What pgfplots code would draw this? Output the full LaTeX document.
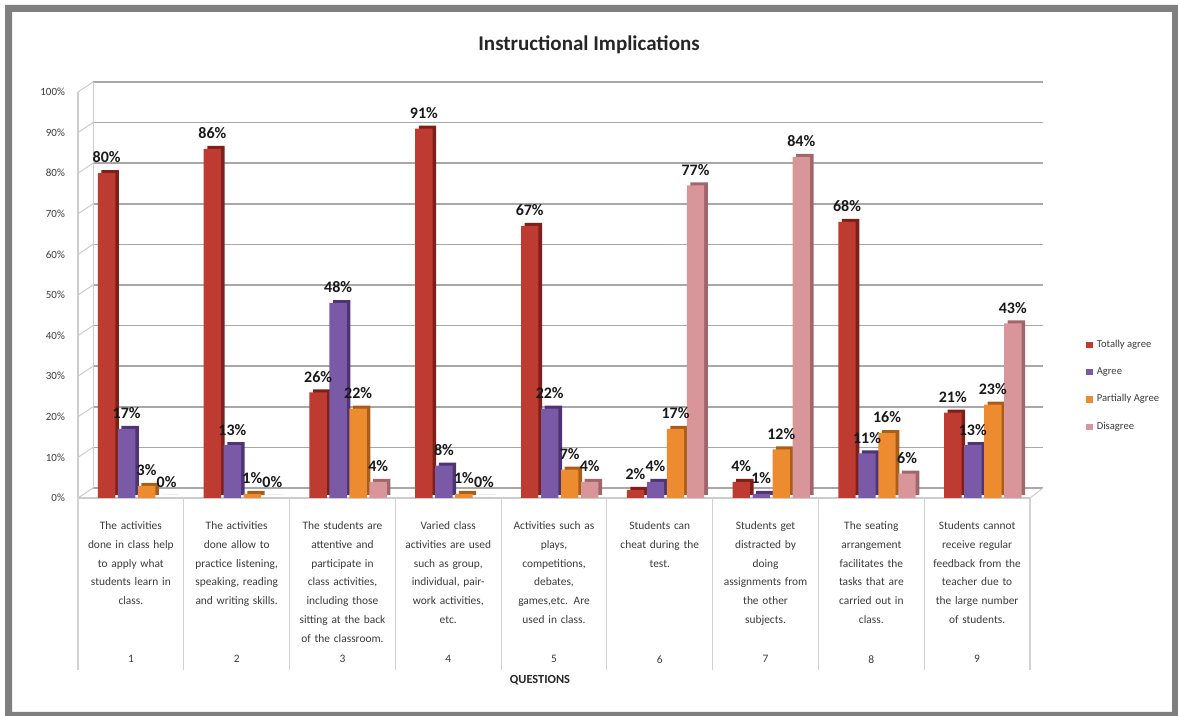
\documentclass[border=0pt]{standalone}
\usepackage{fontspec}
\setmainfont{Carlito}
\usepackage{pgfplots}
\usepackage{pgfplotstable}
\pgfplotsset{compat=1.18}
\definecolor{framegray}{HTML}{7F7F7F}
\definecolor{taF}{HTML}{BE3B32}
\definecolor{taD}{HTML}{7E1F1A}
\definecolor{agF}{HTML}{7A5AA6}
\definecolor{agD}{HTML}{4E3475}
\definecolor{paF}{HTML}{EC8B2F}
\definecolor{paD}{HTML}{A95D16}
\definecolor{diF}{HTML}{D9969A}
\definecolor{diD}{HTML}{A0666A}
\definecolor{gridc}{HTML}{A8A8A8}
\definecolor{txt}{HTML}{3A3A3A}

\pgfplotstableread{
q ta ag pa di
1 80 17 3 0
2 86 13 1 0
3 26 48 22 4
4 91 8 1 0
5 67 22 7 4
6 2 4 17 77
7 4 1 12 84
8 68 11 16 6
9 21 13 23 43
}\datatab

\begin{document}
\begin{tikzpicture}
\path[use as bounding box] (0,0) rectangle (589pt,358pt);
\fill[framegray, even odd rule] (2.5pt,0pt) rectangle (589pt,355.5pt) (6pt,2pt) rectangle (586pt,352pt);
\node[font=\bfseries\fontsize{10.5}{12}\selectfont, text=black!85] at (294.5pt,335.5pt) {Instructional Implications};
\node[font=\bfseries\fontsize{6.2}{7}\selectfont, text=black!85] at (270pt,18pt) {QUESTIONS};
\begin{axis}[
  at={(39pt,109pt)}, anchor=south west,
  width=476pt, height=203pt, scale only axis,
  xmin=0.5, xmax=9.5, ymin=0, ymax=100,
  ybar, bar width=8.7pt,
  clip=false,
  axis x line*=bottom, axis y line*=left,
  axis line style={draw=gray!40, line width=0.6pt},
  xtick={1,...,9},
  xticklabels={
    {The activities\\done in class help\\to apply what\\students learn in\\class.},
    {The activities\\done allow to\\practice listening,\\speaking, reading\\and writing skills.},
    {The students are\\attentive and\\participate in\\class activities,\\including those\\sitting at the back\\of the classroom.},
    {Varied class\\activities are used\\such as group,\\individual, pair-\\work activities,\\etc.},
    {Activities such as\\plays,\\competitions,\\debates,\\games,etc. Are\\used in class.},
    {Students can\\cheat during the\\test.},
    {Students get\\distracted by\\doing\\assignments from\\the other\\subjects.},
    {The seating\\arrangement\\facilitates the\\tasks that are\\carried out in\\class.},
    {Students cannot\\receive regular\\feedback from the\\teacher due to\\the large number\\of students.}},
  xticklabel style={anchor=north, yshift=-4pt, text width=50pt, align=center,
    font=\fontsize{5.7}{9.4}\selectfont, text=txt},
  extra x ticks={1,...,9},
  extra x tick labels={1,2,3,4,5,6,7,8,9},
  extra x tick style={xticklabel style={yshift=-67pt}},
  xtick style={draw=none},
  ytick={0,10,...,100}, ytick style={draw=none},
  yticklabel={\pgfmathprintnumber{\tick}\%},
  /pgf/number format/assume math mode=true,
  yticklabel style={font=\fontsize{5.5}{6}\selectfont, text=txt, xshift=-3pt},
  nodes near coords={\pgfmathprintnumber{\pgfplotspointmeta}\%},
  every node near coord/.append style={font=\bfseries\fontsize{8}{9}\selectfont, text=black!90, yshift=1.5pt},
  legend style={at={(1.0525,0.41)}, anchor=north west, draw=none, fill=none,
    font=\fontsize{5.3}{6}\selectfont, text=txt, row sep=4.6pt},
  legend cell align=left,
  legend image code/.code={\fill[#1] (0pt,-1.5pt) rectangle (3.2pt,1.7pt);},
]
% back wall and floor decoration
\pgfplotsinvokeforeach{0,10,...,100}{
  \draw[gridc, line width=0.8pt] ([xshift=7.5pt,yshift=5pt]axis cs:0.5,#1) -- ([xshift=6.5pt,yshift=5pt]axis cs:9.5,#1);
  \draw[gray!40, line width=0.5pt] (axis cs:0.5,#1) -- ([xshift=7.5pt,yshift=5pt]axis cs:0.5,#1);
}
\draw[gray!40, line width=0.5pt] ([xshift=7.5pt,yshift=5pt]axis cs:0.5,0) -- ([xshift=7.5pt,yshift=5pt]axis cs:0.5,100);
\draw[gray!40, line width=0.5pt] (axis cs:9.5,0) -- ([xshift=6.5pt,yshift=5pt]axis cs:9.5,0);
\pgfplotsinvokeforeach{0.5,1.5,...,9.5}{
  \draw[gray!35, line width=0.6pt] (axis cs:#1,0) -- ++(0pt,-86pt);
}
% Totally agree
\addplot[forget plot, fill=taD, draw=none, bar shift=-12.15pt, xshift=1.8pt, yshift=1.5pt, nodes near coords=] table[x=q,y=ta] {\datatab};
\addplot[fill=taF, draw=none, bar shift=-12.15pt] table[x=q,y=ta] {\datatab};
% Agree
\addplot[forget plot, fill=agD, draw=none, bar shift=-2.15pt, xshift=1.8pt, yshift=1.5pt, nodes near coords=] table[x=q,y=ag] {\datatab};
\addplot[fill=agF, draw=none, bar shift=-2.15pt] table[x=q,y=ag] {\datatab};
% Partially agree
\addplot[forget plot, fill=paD, draw=none, bar shift=7.85pt, xshift=1.8pt, yshift=1.5pt, nodes near coords=] table[x=q,y=pa] {\datatab};
\addplot[fill=paF, draw=none, bar shift=7.85pt] table[x=q,y=pa] {\datatab};
% Disagree
\addplot[forget plot, fill=diD, draw=none, bar shift=17.85pt, xshift=1.8pt, yshift=1.5pt, nodes near coords=] table[x=q,y=di] {\datatab};
\addplot[fill=diF, draw=none, bar shift=17.85pt] table[x=q,y=di] {\datatab};
\legend{Totally agree, Agree, Partially Agree, Disagree}
\end{axis}
\end{tikzpicture}
\end{document}
